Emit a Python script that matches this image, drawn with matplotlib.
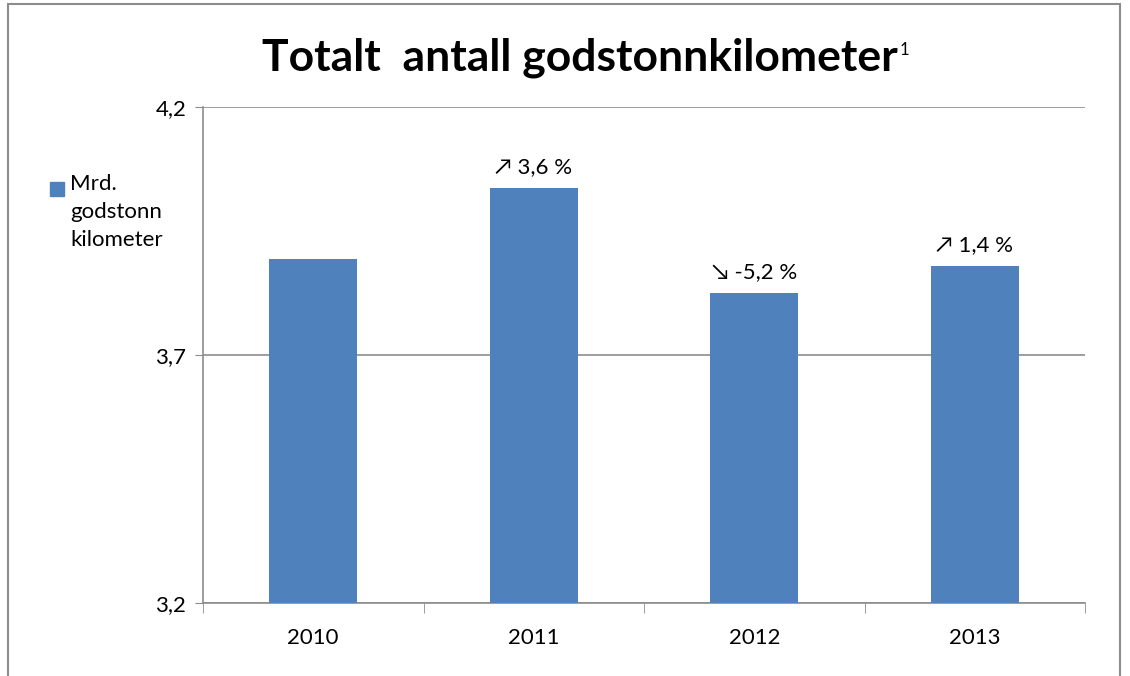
import matplotlib.pyplot as plt
from matplotlib.patches import Rectangle

years = ['2010', '2011', '2012', '2013']
values = [3.894, 4.037, 3.825, 3.879]
changes = [None, '\u2197 3,6 %', '\u2198 -5,2 %', '\u2197 1,4 %']
yticks = [3.2, 3.7, 4.2]
ytick_labels = ['3,2', '3,7', '4,2']

plt.rcParams['font.family'] = ['Lato', 'DejaVu Sans']

fig = plt.figure(figsize=(11.3, 6.76), dpi=100)
ax = fig.add_axes([203 / 1130, 1 - 603 / 676, 882 / 1130, 496 / 676])

# outer chart frame
fig.patches.append(Rectangle((8 / 1130, -0.05), 1112 / 1130, 1.05 - 4 / 676,
                             transform=fig.transFigure, fill=False,
                             edgecolor='#8c8c8c', linewidth=1.5))

x = range(len(years))
bars = ax.bar(x, values, width=0.4, color='#4f81bd', zorder=3)

for i, lab in enumerate(changes):
    if lab:
        ax.annotate(lab, (i, values[i]), xytext=(0, 8), textcoords='offset points',
                    ha='center', va='bottom', fontsize=16)

ax.set_xlim(-0.5, 3.5)
ax.set_ylim(3.2, 4.2)
ax.set_yticks(yticks)
ax.set_yticklabels(ytick_labels, fontsize=16)
ax.set_xticks(list(x))
ax.set_xticklabels(years, fontsize=16)
ax.set_xticks([-0.5, 0.5, 1.5, 2.5, 3.5], minor=True)
ax.tick_params(axis='x', which='major', length=0, pad=18)
ax.tick_params(axis='x', which='minor', length=7, color='#8c8c8c', direction='out')
ax.tick_params(axis='y', length=6, color='#8c8c8c', direction='out', pad=6)
ax.grid(axis='y', color='#8c8c8c', linewidth=1.2, zorder=0)

for s in ['top', 'right']:
    ax.spines[s].set_visible(False)
for s in ['left', 'bottom']:
    ax.spines[s].set_color('#8c8c8c')
    ax.spines[s].set_linewidth(1.2)

title = fig.text(580 / 1130, 1 - 58 / 676, 'Totalt  antall godstonnkilometer', ha='center',
                 va='center', fontsize=32, fontweight='bold')
fig.canvas.draw()
bb = title.get_window_extent()
fig.text(bb.x1 / 1130 + 2 / 1130, 1 - 50 / 676, '1', ha='left', va='center', fontsize=12)

# legend
fig.patches.append(Rectangle((50 / 1130, 1 - 196 / 676), 14 / 1130, 14 / 676,
                             transform=fig.transFigure, color='#4f81bd'))
fig.text(70 / 1130, 1 - 174 / 676, 'Mrd.\ngodstonn\nkilometer', ha='left', va='top',
         fontsize=16, linespacing=1.5)

fig.savefig('out.png', dpi=100)
